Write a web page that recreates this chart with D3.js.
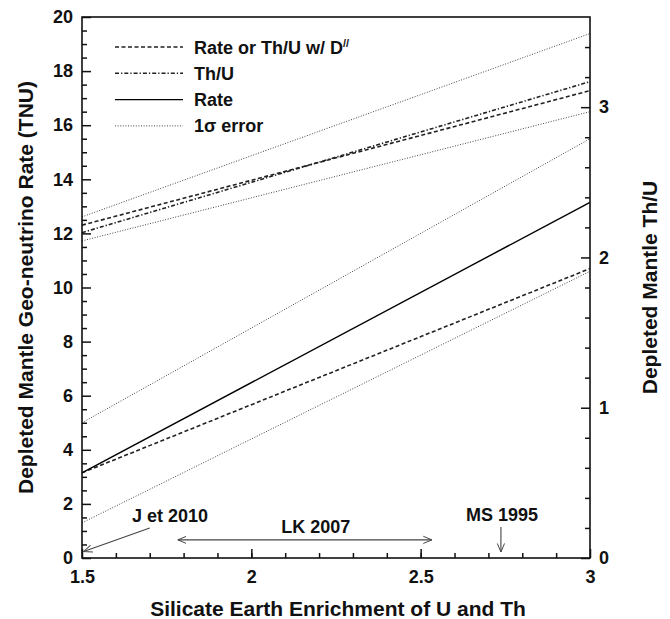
<!DOCTYPE html>
<html>
<head>
  <style>
    body { margin: 0; background: #fff; }
    text { font-family: "Liberation Sans", Arial, Helvetica, sans-serif; font-weight: bold; fill: #111; }
    .tick line { stroke: #111; stroke-width: 1.5px; }
    .tick text { font-size: 18px; }
  </style>
</head>
<body>
  <svg id="chart" width="670" height="619"></svg>

  <script src="https://d3js.org/d3.v7.min.js"></script>
  <script>
    // Enrichment factor endpoints (x)
    const enrich = [1.5, 3];

    // Geo-neutrino rate lines (left axis, TNU)
    const rate = [3.15, 13.15];
    const rateD = [3.15, 10.7];
    const rateErrHi = [5.0, 15.5];
    const rateErrLo = [1.3, 10.6];

    // Th/U lines (right axis)
    const thu = [2.165, 3.17];
    const thuD = [2.215, 3.11];
    const thuErrHi = [2.27, 3.49];
    const thuErrLo = [2.11, 2.97];

    // Ticks
    const xMajor = [1.5, 2, 2.5, 3];
    const xMinor = d3.range(1.6, 3, 0.1);
    const yMajor = d3.range(0, 21, 2);
    const yMinor = d3.range(0.5, 20, 0.5);
    const y2Major = [0, 1, 2, 3];
    const y2Minor = d3.range(0.2, 3.6, 0.2);

    // Legend entries
    const legendLabels = ["Rate or Th/U w/ D", "Th/U", "Rate", "1\u03c3 error"];
    const legendStyles = ["dashed", "dashdot", "solid", "dotted"];

    // Annotations [x, y] in data units
    const jArrow = [[1.70, 1.11], [1.505, 0.24]];
    const lkArrow = [[1.783, 0.67], [2.533, 0.67]];
    const msArrow = [[2.737, 1.15], [2.737, 0.22]];

    const styles = {
      dashed:  { stroke: "#222", width: 1.6, dash: "4,2.5" },
      dashdot: { stroke: "#222", width: 1.6, dash: "4,2,1.3,2" },
      solid:   { stroke: "#000", width: 1.4, dash: null },
      dotted:  { stroke: "#444", width: 1, dash: "1,1.6" }
    };

    const svg = d3.select("#chart");
    const margin = { left: 82, right: 80, top: 17, bottom: 61 };
    const W = 670 - margin.left - margin.right;
    const H = 619 - margin.top - margin.bottom;

    const x = d3.scaleLinear().domain([1.5, 3]).range([0, W]);
    const y = d3.scaleLinear().domain([0, 20]).range([H, 0]);
    const y2 = d3.scaleLinear().domain([0, 3.6]).range([H, 0]);

    const g = svg.append("g").attr("transform", `translate(${margin.left},${margin.top})`);

    // Arrow marker
    const defs = svg.append("defs");
    defs.append("marker")
      .attr("id", "arr")
      .attr("viewBox", "0 0 10 10")
      .attr("refX", 9.5).attr("refY", 5)
      .attr("markerWidth", 9).attr("markerHeight", 9)
      .attr("markerUnits", "userSpaceOnUse")
      .attr("orient", "auto-start-reverse")
      .append("path")
      .attr("d", "M0,1 L9.5,5 L0,9")
      .attr("fill", "none")
      .attr("stroke", "#444")
      .attr("stroke-width", 1.1);

    function drawLine(vals, scale, style) {
      const s = styles[style];
      const line = d3.line().x((d, i) => x(enrich[i])).y(d => scale(d));
      g.append("path")
        .datum(vals)
        .attr("d", line)
        .attr("fill", "none")
        .attr("stroke", s.stroke)
        .attr("stroke-width", s.width)
        .attr("stroke-dasharray", s.dash);
    }

    drawLine(rateErrHi, y, "dotted");
    drawLine(rateErrLo, y, "dotted");
    drawLine(thuErrHi, y2, "dotted");
    drawLine(thuErrLo, y2, "dotted");
    drawLine(rateD, y, "dashed");
    drawLine(thuD, y2, "dashed");
    drawLine(thu, y2, "dashdot");
    drawLine(rate, y, "solid");

    // Axes
    g.append("g")
      .call(d3.axisLeft(y).tickValues(yMajor).tickSize(-9).tickPadding(9));
    g.append("g")
      .call(d3.axisLeft(y).tickValues(yMinor.filter(v => v % 2 !== 0)).tickSize(-5).tickFormat(""));
    g.append("g").attr("transform", `translate(0,${H})`)
      .call(d3.axisBottom(x).tickValues(xMajor).tickSize(-9).tickPadding(12).tickFormat(d => d));
    g.append("g").attr("transform", `translate(0,${H})`)
      .call(d3.axisBottom(x).tickValues(xMinor).tickSize(-5).tickFormat(""));
    g.append("g").attr("transform", `translate(${W},0)`)
      .call(d3.axisRight(y2).tickValues(y2Major).tickSize(-9).tickPadding(9).tickFormat(d => d));
    g.append("g").attr("transform", `translate(${W},0)`)
      .call(d3.axisRight(y2).tickValues(y2Minor.filter(v => Math.abs(v - Math.round(v)) > 0.01)).tickSize(-5).tickFormat(""));

    g.selectAll(".domain").remove();
    g.selectAll(".tick text").attr("fill", "#111");

    // Frame
    g.append("rect")
      .attr("width", W).attr("height", H)
      .attr("fill", "none")
      .attr("stroke", "#111")
      .attr("stroke-width", 1.6);

    // Axis titles
    svg.append("text")
      .attr("x", margin.left + W / 2 + 2).attr("y", 616)
      .attr("text-anchor", "middle")
      .style("font-size", "21px")
      .text("Silicate Earth Enrichment of U and Th");
    svg.append("text")
      .attr("transform", `translate(33,${margin.top + H / 2}) rotate(-90)`)
      .attr("text-anchor", "middle")
      .style("font-size", "21px")
      .text("Depleted Mantle Geo-neutrino Rate (TNU)");
    svg.append("text")
      .attr("transform", `translate(657,${margin.top + H / 2}) rotate(-90)`)
      .attr("text-anchor", "middle")
      .style("font-size", "21px")
      .text("Depleted Mantle Th/U");

    // Legend
    const leg = svg.append("g").attr("transform", "translate(115,47)");
    legendLabels.forEach((lab, i) => {
      const s = styles[legendStyles[i]];
      const row = leg.append("g").attr("transform", `translate(0,${i * 26.3})`);
      row.append("line")
        .attr("x1", 0).attr("x2", 68)
        .attr("stroke", s.stroke)
        .attr("stroke-width", s.width)
        .attr("stroke-dasharray", s.dash);
      const t = row.append("text")
        .attr("x", 79).attr("y", 6.5)
        .style("font-size", "18px")
        .text(lab);
      if (i === 0) {
        t.append("tspan")
          .attr("dy", -7)
          .style("font-size", "11px")
          .text("//");
      }
    });

    // Annotations
    const arrowLine = d3.line().x(d => x(d[0])).y(d => y(d[1]));
    g.append("path").attr("d", arrowLine(jArrow))
      .attr("stroke", "#444").attr("stroke-width", 1.1).attr("fill", "none")
      .attr("marker-end", "url(#arr)");
    g.append("path").attr("d", arrowLine(lkArrow))
      .attr("stroke", "#444").attr("stroke-width", 1.1).attr("fill", "none")
      .attr("marker-start", "url(#arr)").attr("marker-end", "url(#arr)");
    g.append("path").attr("d", arrowLine(msArrow))
      .attr("stroke", "#444").attr("stroke-width", 1.1).attr("fill", "none")
      .attr("marker-end", "url(#arr)");

    g.append("text").attr("x", x(1.76)).attr("y", y(1.33))
      .attr("text-anchor", "middle").style("font-size", "18px").text("J et 2010");
    g.append("text").attr("x", x(2.19)).attr("y", y(0.92))
      .attr("text-anchor", "middle").style("font-size", "18px").text("LK 2007");
    g.append("text").attr("x", x(2.74)).attr("y", y(1.37))
      .attr("text-anchor", "middle").style("font-size", "18px").text("MS 1995");
  </script>
</body>
</html>
